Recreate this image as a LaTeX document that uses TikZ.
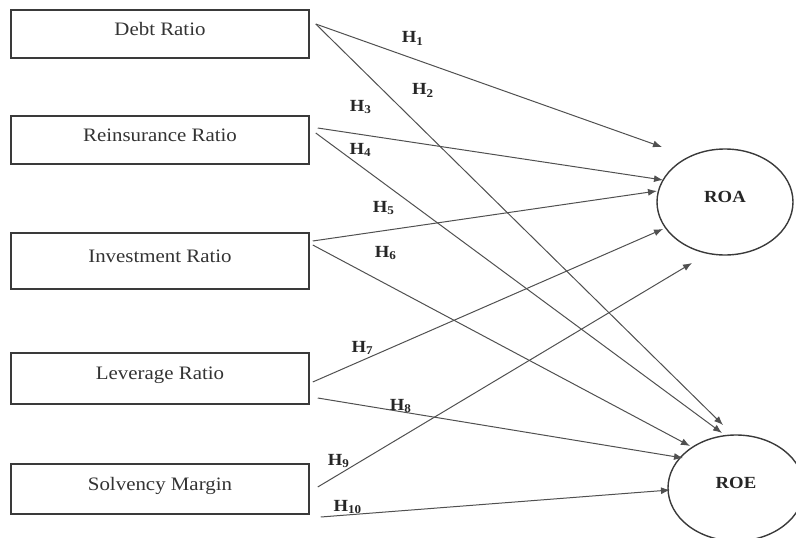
\documentclass[tikz,border=0pt]{standalone}
\usepackage{fontspec}
\setmainfont{Liberation Serif}[FakeStretch=1.1]
\usepackage{xcolor}
\usetikzlibrary{shapes.geometric}
\usetikzlibrary{arrows.meta}
\usetikzlibrary{calc}
\definecolor{linegray}{HTML}{505050}
\definecolor{boxgray}{HTML}{3A3A3A}

\begin{document}
\begin{tikzpicture}[x=1pt, y=-1pt,
  var/.style={rectangle, draw=boxgray, line width=1.5pt, minimum width=298pt, minimum height=48pt, inner sep=0pt, text height=12.5pt, text depth=10pt, font=\fontsize{19}{22}\selectfont, text=black!80},
  perf/.style={ellipse, draw=boxgray, line width=1.4pt, minimum width=136pt, minimum height=106pt, inner sep=0pt, text height=11pt, text depth=10pt, font=\fontsize{17}{20}\selectfont\bfseries, text=black!85},
  link/.style={draw=linegray, line width=1pt, -{Latex[length=9pt,width=7pt]}},
  hyp/.style={font=\fontsize{17}{20}\selectfont\bfseries, inner sep=0pt, text=black!85}]
	\useasboundingbox (0,0) rectangle (796,538);
	% Nodes
	\node[var] (debt) at (160,34) {Debt Ratio};
	\node[var] (reins) at (160,140) {Reinsurance Ratio};
	\node[var, minimum height=56pt] (invest) at (160,261) {Investment Ratio};
	\node[var, minimum height=51pt] (lever) at (160,378.5) {Leverage Ratio};
	\node[var, minimum height=50pt] (solv) at (160,489) {Solvency Margin};
	\node[perf] (roa) at (725,202) {ROA};
	\node[perf] (roe) at (736,488) {ROE};
	% Edges with hypotheses
	\draw[link] ($(debt.east)+(6,-10)$) -- ($(roa.center)+(-63,-55)$) node[hyp, pos=0.28, yshift=20pt] {H\textsubscript{1}};
	\draw[link] ($(debt.east)+(6,-10)$) -- ($(roe.center)+(-13,-63)$) node[hyp, pos=0.165, xshift=40pt] {H\textsubscript{2}};
	\draw[link] ($(reins.east)+(8,-12)$) -- ($(roa.center)+(-62,-22)$) node[hyp, pos=0.124, yshift=27.5pt] {H\textsubscript{3}};
	\draw[link] ($(reins.east)+(6,-7)$) -- ($(roe.center)+(-14,-55)$) node[hyp, pos=0.11, yshift=16pt] {H\textsubscript{4}};
	\draw[link] ($(invest.east)+(3,-20)$) -- ($(roa.center)+(-68,-11)$) node[hyp, pos=0.206, yshift=22.7pt] {H\textsubscript{5}};
	\draw[link] ($(invest.east)+(3,-16)$) -- ($(roe.center)+(-46,-42)$) node[hyp, pos=0.193, yshift=30.8pt] {H\textsubscript{6}};
	\draw[link] ($(lever.east)+(3,3.5)$) -- ($(roa.center)+(-62,27)$) node[hyp, pos=0.142, yshift=12.3pt] {H\textsubscript{7}};
	\draw[link] ($(lever.east)+(8,19.5)$) -- ($(roe.center)+(-53,-30)$) node[hyp, pos=0.227, yshift=5.6pt] {H\textsubscript{8}};
	\draw[link] ($(solv.east)+(8,-2)$) -- ($(roa.center)+(-33,61)$) node[hyp, pos=0.056, yshift=13.5pt] {H\textsubscript{9}};
	\draw[link] ($(solv.east)+(11,28)$) -- ($(roe.center)+(-66,2)$) node[hyp, pos=0.077, yshift=7.9pt] {H\textsubscript{10}};
\end{tikzpicture}
\end{document}
